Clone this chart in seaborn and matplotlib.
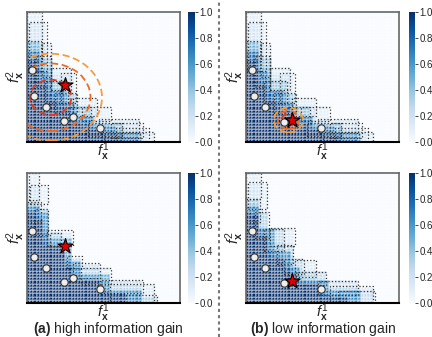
import numpy as np
import pandas as pd
import seaborn as sns
from matplotlib import pyplot as plt
from matplotlib.patches import Rectangle, Ellipse

sns.set_style("white")
plt.rcParams['font.family'] = ['Liberation Sans', 'DejaVu Sans']
plt.rcParams['mathtext.fontset'] = 'custom'
plt.rcParams['mathtext.rm'] = 'Liberation Sans'
plt.rcParams['mathtext.it'] = 'Liberation Sans:italic'
plt.rcParams['mathtext.bf'] = 'Liberation Sans:bold'

# grid of the dominance heatmap
nx, ny = 48, 40

dots_left_x = [0.03, 0.046, 0.124, 0.242, 0.303, 0.48]
dots_left_y = [0.555, 0.355, 0.27, 0.16, 0.195, 0.105]
dots_right_x = [0.037, 0.054, 0.126, 0.246, 0.49]
dots_right_y = [0.555, 0.355, 0.27, 0.155, 0.105]

# candidate queries (red stars)
star_left = (0.248, 0.435)
star_right = (0.30, 0.172)

# dashed contour circles around each query: centre and radii
circ_left_c = (0.155, 0.344)
circ_left_r = [0.135, 0.26, 0.335]
circ_right_c = (0.277, 0.169)
circ_right_r = [0.045, 0.07, 0.095]
circ_colors = ['#e2381b', '#f26a1f', '#fd9a36']

# uncertainty boxes: x0, y0, x1, y1, weight, dotted outline drawn
boxes_top = [
    (0.00, 0.00, 0.06, 0.62, 0.95, 0), (0.00, 0.00, 0.12, 0.46, 0.95, 0),
    (0.00, 0.00, 0.19, 0.33, 0.95, 0), (0.00, 0.00, 0.27, 0.24, 0.95, 0),
    (0.00, 0.00, 0.36, 0.16, 0.95, 0), (0.00, 0.00, 0.50, 0.10, 0.95, 0),
    (0.00, 0.00, 0.60, 0.05, 0.9, 0),
    (0.00, 0.00, 0.09, 0.70, 0.55, 0), (0.00, 0.00, 0.15, 0.55, 0.5, 0),
    (0.00, 0.00, 0.24, 0.40, 0.5, 0), (0.00, 0.00, 0.32, 0.29, 0.45, 0),
    (0.00, 0.00, 0.44, 0.19, 0.5, 0), (0.00, 0.00, 0.58, 0.12, 0.45, 0),
    (0.00, 0.00, 0.72, 0.06, 0.5, 0),
    (0.00, 0.55, 0.09, 0.78, 0.3, 1), (0.06, 0.42, 0.16, 0.66, 0.3, 1),
    (0.12, 0.30, 0.27, 0.47, 0.25, 1), (0.18, 0.22, 0.33, 0.38, 0.25, 1),
    (0.27, 0.14, 0.42, 0.27, 0.25, 1), (0.40, 0.05, 0.62, 0.15, 0.25, 1),
    (0.50, 0.00, 0.74, 0.07, 0.3, 1),
    (0.00, 0.62, 0.10, 1.00, 0.1, 1), (0.01, 0.55, 0.13, 0.92, 0.1, 1),
    (0.10, 0.50, 0.16, 0.76, 0.12, 1), (0.16, 0.40, 0.29, 0.57, 0.12, 1),
    (0.22, 0.30, 0.32, 0.53, 0.1, 1), (0.30, 0.20, 0.46, 0.34, 0.12, 1),
    (0.36, 0.16, 0.55, 0.27, 0.1, 1), (0.47, 0.08, 0.73, 0.18, 0.12, 1),
    (0.55, 0.03, 0.76, 0.15, 0.1, 1), (0.62, 0.00, 0.83, 0.08, 0.12, 1),
    (0.58, 0.00, 0.80, 0.11, 0.1, 1),
]

boxes_bottom_left = [
    (0.00, 0.00, 0.04, 0.70, 0.95, 0), (0.00, 0.00, 0.11, 0.65, 0.95, 0),
    (0.00, 0.00, 0.25, 0.44, 0.97, 0), (0.00, 0.00, 0.29, 0.27, 0.95, 0),
    (0.00, 0.00, 0.48, 0.18, 0.95, 0), (0.00, 0.00, 0.65, 0.08, 0.9, 0),
    (0.00, 0.00, 0.08, 0.76, 0.5, 0), (0.00, 0.00, 0.14, 0.70, 0.45, 0),
    (0.00, 0.00, 0.30, 0.50, 0.4, 0), (0.00, 0.00, 0.35, 0.33, 0.45, 0),
    (0.00, 0.00, 0.55, 0.22, 0.45, 0), (0.00, 0.00, 0.75, 0.11, 0.45, 0),
    (0.00, 0.62, 0.09, 0.78, 0.25, 1), (0.05, 0.52, 0.14, 0.72, 0.25, 1),
    (0.13, 0.44, 0.30, 0.56, 0.15, 1), (0.15, 0.44, 0.22, 0.54, 0.2, 1),
    (0.26, 0.27, 0.36, 0.36, 0.25, 1), (0.30, 0.19, 0.48, 0.31, 0.2, 1),
    (0.35, 0.15, 0.55, 0.27, 0.12, 1), (0.48, 0.08, 0.76, 0.18, 0.2, 1),
    (0.54, 0.00, 0.83, 0.15, 0.12, 1), (0.65, 0.00, 0.85, 0.06, 0.25, 1),
    (0.01, 0.79, 0.08, 1.00, 0.1, 1), (0.02, 0.76, 0.14, 0.91, 0.1, 1),
]

boxes_bottom_right = [
    (0.00, 0.00, 0.04, 0.70, 0.95, 0), (0.00, 0.00, 0.08, 0.67, 0.95, 0),
    (0.00, 0.00, 0.15, 0.52, 0.95, 0), (0.00, 0.00, 0.25, 0.35, 0.95, 0),
    (0.00, 0.00, 0.30, 0.26, 0.95, 0), (0.00, 0.00, 0.47, 0.14, 0.95, 0),
    (0.00, 0.00, 0.67, 0.06, 0.9, 0),
    (0.00, 0.00, 0.09, 0.76, 0.5, 0), (0.00, 0.00, 0.19, 0.58, 0.45, 0),
    (0.00, 0.00, 0.29, 0.40, 0.45, 0), (0.00, 0.00, 0.36, 0.27, 0.45, 0),
    (0.00, 0.00, 0.55, 0.18, 0.45, 0), (0.00, 0.00, 0.74, 0.10, 0.45, 0),
    (0.00, 0.62, 0.09, 0.80, 0.25, 1), (0.06, 0.50, 0.15, 0.70, 0.25, 1),
    (0.12, 0.40, 0.25, 0.57, 0.2, 1), (0.20, 0.30, 0.31, 0.45, 0.2, 1),
    (0.25, 0.22, 0.38, 0.34, 0.2, 1), (0.33, 0.14, 0.52, 0.24, 0.25, 1),
    (0.47, 0.06, 0.73, 0.17, 0.2, 1), (0.55, 0.00, 0.83, 0.13, 0.12, 1),
    (0.00, 0.80, 0.10, 1.00, 0.1, 1), (0.01, 0.72, 0.14, 0.93, 0.1, 1),
    (0.16, 0.44, 0.32, 0.58, 0.12, 1), (0.32, 0.20, 0.46, 0.33, 0.12, 1),
    (0.60, 0.00, 0.84, 0.09, 0.15, 1),
]

cb_ticks = [0.0, 0.2, 0.4, 0.6, 0.8, 1.0]


def dominance(boxes):
    xc = (np.arange(nx) + 0.5) / nx
    yc = (np.arange(ny) + 0.5) / ny
    X, Y = np.meshgrid(xc, yc)
    keep = np.ones_like(X)
    for x0, y0, x1, y1, w, d in boxes:
        keep *= 1 - w * ((X <= x1) & (Y <= y1))
    return pd.DataFrame(1 - keep)


def panel(ax, cax, boxes, dx, dy, star, circ_c=None, circ_r=None):
    sns.heatmap(dominance(boxes), ax=ax, cbar_ax=cax, cmap='Blues', vmin=0, vmax=1,
                linewidths=0.3, linecolor=(1, 1, 1, 0.3),
                xticklabels=False, yticklabels=False,
                cbar_kws={'ticks': cb_ticks})
    ax.invert_yaxis()
    for x0, y0, x1, y1, w, d in boxes:
        if d:
            ax.add_patch(Rectangle((x0 * nx, y0 * ny), (x1 - x0) * nx, (y1 - y0) * ny,
                                   fill=False, ls=':', lw=0.9, ec='#333333'))
    if circ_c is not None:
        for r, c in zip(circ_r, circ_colors):
            ax.add_patch(Ellipse((circ_c[0] * nx, circ_c[1] * ny), 2 * r * nx, 2 * r * ny,
                                 fill=False, ls=(0, (4, 2)), lw=1.3, ec=c))
    ax.scatter(np.array(dx) * nx, np.array(dy) * ny, s=28, c='#eeeeee',
               edgecolors='#333333', linewidths=0.8, zorder=5)
    ax.scatter([star[0] * nx], [star[1] * ny], marker='*', s=130, c='#e00000',
               edgecolors='black', linewidths=0.8, zorder=6)
    ax.set_xlim(0, nx)
    ax.set_ylim(0, ny)
    for s in ['top', 'right', 'left']:
        ax.spines[s].set_visible(True)
        ax.spines[s].set_color('#666666')
        ax.spines[s].set_linewidth(1.2)
    ax.spines['bottom'].set_visible(True)
    ax.spines['bottom'].set_color('black')
    ax.spines['bottom'].set_linewidth(1.5)
    ax.set_xlabel(r'$f^1_{\mathbf{x}}$', fontsize=10.5, labelpad=-1)
    ax.set_ylabel(r'$f^2_{\mathbf{x}}$', fontsize=11, labelpad=0)
    cax.tick_params(labelsize=7, length=2, pad=1, width=0.6)
    ax.collections[0].colorbar.outline.set_visible(False)
    cax.set_yticklabels(['%.1f' % t for t in cb_ticks])


fig = plt.figure(figsize=(4.32, 3.37), dpi=100)
W, H = 432, 337


def rect(l, t, r, b):
    return [l / W, (H - b) / H, (r - l) / W, (b - t) / H]


ax1 = fig.add_axes(rect(27, 12, 180, 142))
cx1 = fig.add_axes(rect(188, 12, 195, 142))
ax2 = fig.add_axes(rect(246, 12, 399, 142))
cx2 = fig.add_axes(rect(409, 12, 415, 142))
ax3 = fig.add_axes(rect(27, 173, 180, 303))
cx3 = fig.add_axes(rect(188, 173, 195, 303))
ax4 = fig.add_axes(rect(246, 173, 399, 303))
cx4 = fig.add_axes(rect(409, 173, 415, 303))

panel(ax1, cx1, boxes_top, dots_left_x, dots_left_y, star_left, circ_left_c, circ_left_r)
panel(ax2, cx2, boxes_top, dots_right_x, dots_right_y, star_right, circ_right_c, circ_right_r)
panel(ax3, cx3, boxes_bottom_left, dots_left_x, dots_left_y, star_left)
panel(ax4, cx4, boxes_bottom_right, dots_right_x, dots_right_y, star_right)

fig.add_artist(plt.Line2D([219 / W, 219 / W], [0, 1], color='#777777', lw=1.5,
                          ls=(0, (1.5, 1.5))))
fig.text(108 / W, 4.5 / H, r'$\mathbf{(a)}$ high information gain', ha='center', va='baseline', fontsize=10)
fig.text(323 / W, 4.5 / H, r'$\mathbf{(b)}$ low information gain', ha='center', va='baseline', fontsize=10)

fig.savefig('out.png', dpi=100)
